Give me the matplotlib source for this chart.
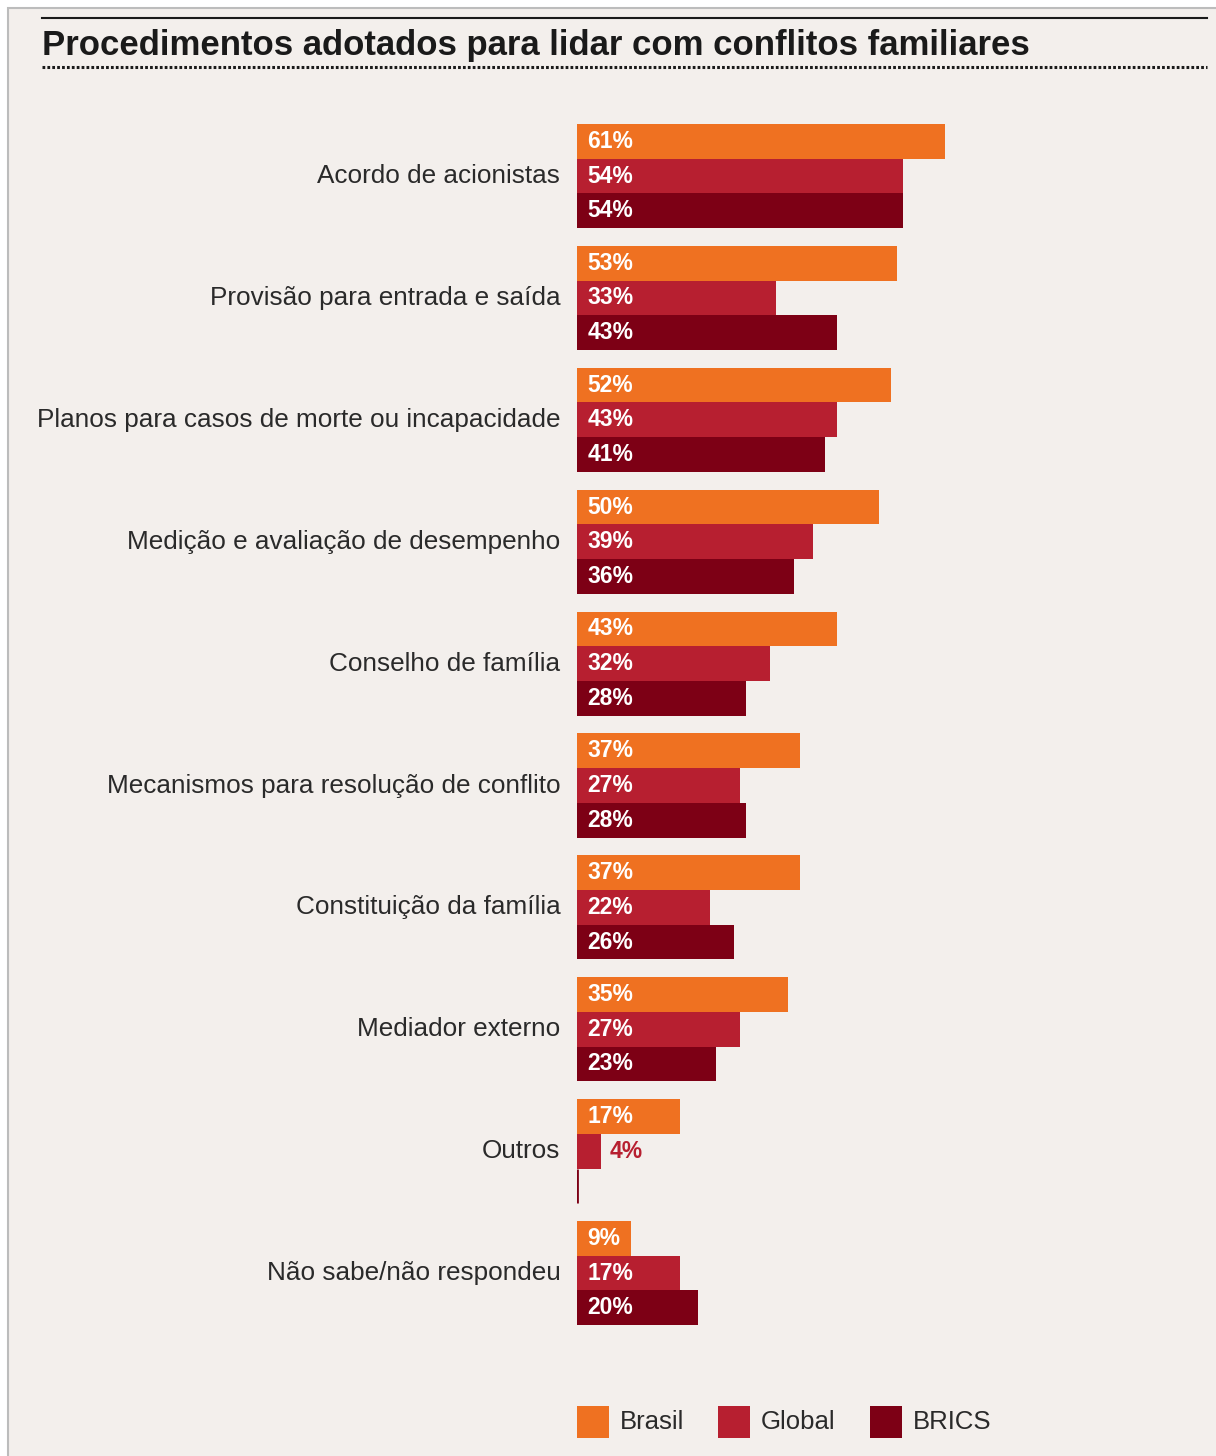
import matplotlib
matplotlib.use("Agg")
import matplotlib.pyplot as plt
from matplotlib.patches import Rectangle
from matplotlib.lines import Line2D

plt.rcParams['font.family'] = ['Liberation Sans', 'DejaVu Sans']

title = "Procedimentos adotados para lidar com conflitos familiares"
categories = [
    "Acordo de acionistas",
    "Provisão para entrada e saída",
    "Planos para casos de morte ou incapacidade",
    "Medição e avaliação de desempenho",
    "Conselho de família",
    "Mecanismos para resolução de conflito",
    "Constituição da família",
    "Mediador externo",
    "Outros",
    "Não sabe/não respondeu",
]
series_names = ["Brasil", "Global", "BRICS"]
brasil = [61, 53, 52, 50, 43, 37, 37, 35, 17, 9]
global_ = [54, 33, 43, 39, 32, 27, 22, 27, 4, 17]
brics = [54, 43, 41, 36, 28, 28, 26, 23, 0, 20]
colors = ["#ef7121", "#b71f30", "#7d0015"]

W, H = 1216, 1456
fig = plt.figure(figsize=(W / 100, H / 100), dpi=100, facecolor="white")

# overlay in pixel coordinates
ov = fig.add_axes([0, 0, 1, 1], zorder=0)
ov.set_xlim(0, W)
ov.set_ylim(H, 0)
ov.axis("off")
ov.add_patch(Rectangle((8, 8), W, H, facecolor="#f3efec", edgecolor="#bcbcbc", lw=1.5))
ov.add_line(Line2D([42, 1207], [18, 18], color="#1a1a1a", lw=1.5))
ov.add_line(Line2D([42, 1207], [67, 67], color="#1a1a1a", lw=2.2, linestyle=(0, (0.9, 0.7))))
ov.text(42, 45, title, fontsize=25, fontweight="bold", color="#1a1a1a", va="center", ha="left")

# bar axes
ax_left, ax_right = 577, 1207
ax_top, ax_bot = 100, 1350
ax = fig.add_axes([ax_left / W, 1 - ax_bot / H, (ax_right - ax_left) / W, (ax_bot - ax_top) / H], zorder=1)
ax.patch.set_alpha(0)
px_per_pct = 6.04
ax.set_xlim(0, (ax_right - ax_left) / px_per_pct)
spacing = 121.9
y0 = (176 - ax_top) / spacing
ax.set_ylim(-y0 + (ax_bot - ax_top) / spacing, -y0)
h = 34.7 / spacing
for spine in ax.spines.values():
    spine.set_visible(False)
ax.set_xticks([])
ax.set_yticks([])

for s, (vals, col) in enumerate(zip([brasil, global_, brics], colors)):
    for i, v in enumerate(vals):
        y = i + (s - 1) * h
        ax.barh(y, v, height=h, color=col, edgecolor=col if v == 0 else "none",
                lw=2 if v == 0 else 0)
        if v == 0:
            continue
        if v >= 8:
            ax.annotate(f"{v}%", xy=(0, y), xytext=(7.5, 0), textcoords="offset points",
                        ha="left", va="center", fontsize=16.5, fontweight="bold", color="white")
        else:
            ax.annotate(f"{v}%", xy=(v, y), xytext=(6, 0), textcoords="offset points",
                        ha="left", va="center", fontsize=16.5, fontweight="bold", color=col)

for i, c in enumerate(categories):
    ax.annotate(c, xy=(0, i), xytext=(-12, 0), textcoords="offset points",
                ha="right", va="center", fontsize=18.8, color="#2a2a2a", annotation_clip=False)

# legend
leg_x = [577, 718, 870]
for name, col, lx in zip(series_names, colors, leg_x):
    ov.add_patch(Rectangle((lx, 1406), 32, 32, facecolor=col, edgecolor="none"))
    ov.text(lx + 43, 1422, name, fontsize=18.5, color="#2a2a2a", va="center", ha="left")

fig.savefig("out.png", dpi=100, facecolor="white")
